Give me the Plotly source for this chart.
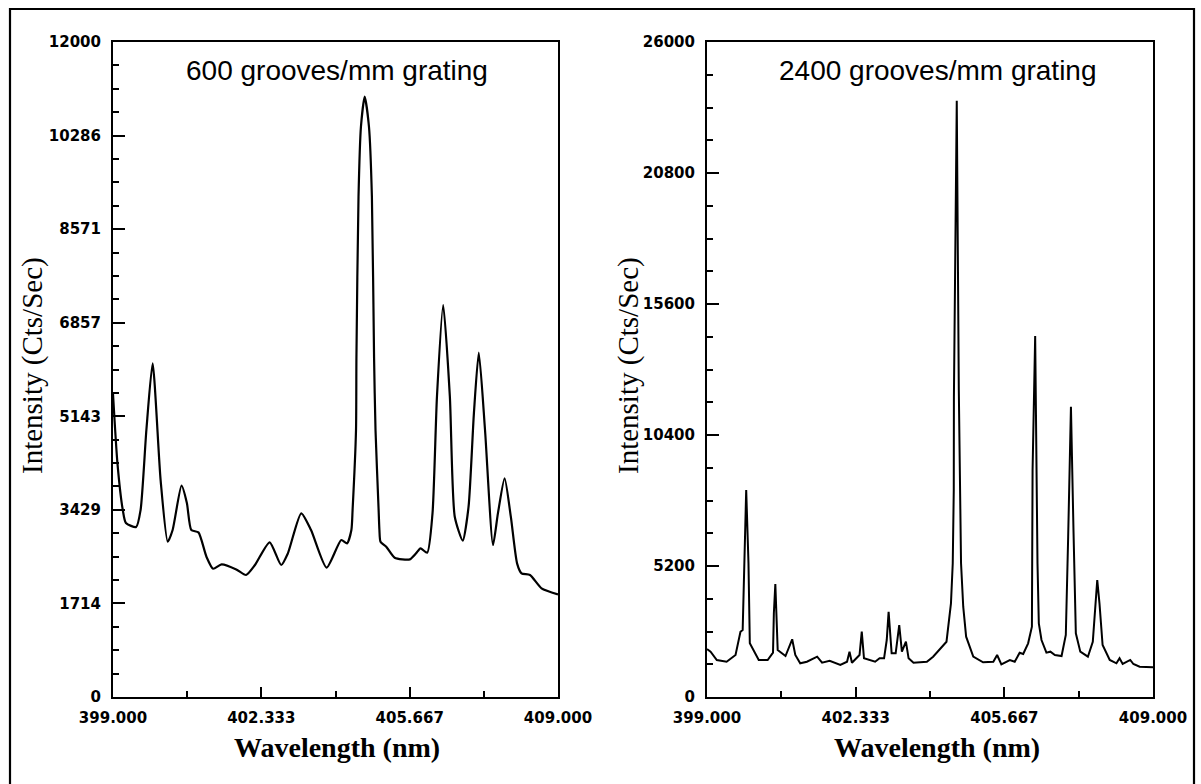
import plotly.graph_objects as go

# 600 grooves/mm grating spectrum
wl_600 = [399.00, 399.10, 399.22, 399.29, 399.52, 399.62, 399.75, 399.89, 400.07,
          400.23, 400.34, 400.54, 400.66, 400.76, 400.92, 401.10, 401.25, 401.44,
          401.77, 401.99, 402.19, 402.52, 402.78, 402.93, 403.23, 403.45, 403.80,
          404.13, 404.26, 404.357, 404.384, 404.461, 404.470, 404.517, 404.572,
          404.656, 404.752, 404.818, 404.867, 404.899, 404.969, 404.987, 405.011,
          405.14, 405.33, 405.67, 405.81, 405.91, 406.06, 406.18, 406.28, 406.42,
          406.57, 406.68, 406.86, 406.99, 407.11, 407.22, 407.36, 407.54, 407.65,
          407.80, 407.94, 408.08, 408.18, 408.37, 408.63, 409.00]
int_600 = [5550, 4281, 3426, 3187, 3114, 3426, 4891, 6113, 3975,
           2845, 3059, 3871, 3553, 3059, 3016, 2570, 2350, 2430,
           2338, 2235, 2418, 2834, 2418, 2632, 3365, 3059, 2369,
           2876, 2815, 3059, 3426, 4891, 6205, 9166, 10448,
           10998, 10448, 9166, 6205, 4891, 3426, 3059, 2845,
           2753, 2552, 2522, 2632, 2724, 2643, 3365, 5502, 7181,
           5502, 3303, 2864, 3486, 5197, 6308, 4891, 2785, 3365,
           4007, 3303, 2449, 2266, 2235, 1991, 1880]

# 2400 grooves/mm grating spectrum
wl_2400 = [399.00, 399.08, 399.22, 399.44, 399.64, 399.75, 399.80, 399.834, 399.879,
           399.93, 399.96, 400.16, 400.36, 400.48, 400.499, 400.532, 400.585, 400.76,
           400.91, 400.98, 401.09, 401.24, 401.47, 401.58, 401.75, 401.99, 402.14,
           402.195, 402.25, 402.42, 402.47, 402.52, 402.66, 402.77, 402.87, 402.97,
           403.03, 403.072, 403.14, 403.23, 403.31, 403.37, 403.46, 403.52, 403.63,
           403.93, 404.07, 404.15, 404.22, 404.37, 404.47, 404.51, 404.533, 404.536,
           404.60, 404.646, 404.696, 404.745, 404.81, 404.97, 405.19, 405.42, 405.505,
           405.60, 405.79, 405.90, 406.01, 406.09, 406.20, 406.285, 406.30, 406.326,
           406.358, 406.41, 406.44, 406.50, 406.61, 406.70, 406.80, 406.95, 407.045,
           407.098, 407.16, 407.217, 407.27, 407.37, 407.54, 407.65, 407.71, 407.75,
           407.80, 407.87, 408.03, 408.18, 408.25, 408.32, 408.49, 408.56, 408.70,
           409.00]
int_2400 = [1900, 1798, 1469, 1401, 1667, 2592, 2659, 5306, 8216,
            5306, 2131, 1469, 1469, 1759, 3322, 4485, 1865, 1627,
            2290, 1667, 1337, 1401, 1600, 1361, 1441, 1270, 1401,
            1798, 1361, 1667, 2592, 1536, 1469, 1401, 1536, 1536,
            2262, 3386, 1733, 1733, 2858, 1798, 2195, 1536, 1361,
            1401, 1600, 1759, 1933, 2195, 3719, 5306, 8216, 11919,
            23667, 12185, 5306, 3584, 2393, 1600, 1377, 1401, 1667,
            1297, 1469, 1401, 1759, 1707, 2131, 2791, 9010, 11919,
            14328, 5306, 2925, 2262, 1759, 1798, 1667, 1627, 2461,
            6362, 11522, 6628, 2528, 1798, 1600, 2195, 3850, 4644,
            3719, 2064, 1469, 1337, 1536, 1310, 1469, 1310, 1203,
            1178]

# Axis tick labels
x_tickvals = [399.0, 402.333, 405.667, 409.0]
x_ticktext = ["399.000", "402.333", "405.667", "409.000"]
x_minor = [400.667, 404.0, 407.333]
y_ticktext_600 = ["0", "1714", "3429", "5143", "6857", "8571", "10286", "12000"]
y_ticktext_2400 = ["0", "5200", "10400", "15600", "20800", "26000"]
ymax_600 = 12000
ymax_2400 = 26000

W, H = 1201, 784
tick_font = dict(family="DejaVu Sans", size=15, color="black", weight="bold")
xtitle_font = dict(family="Liberation Serif", size=28, color="black", weight="bold")
ytitle_font = dict(family="Liberation Serif", size=29, color="black")
panel_font = dict(family="Liberation Sans", size=28, color="black")

fig = go.Figure()
fig.add_trace(go.Scatter(x=wl_600, y=int_600, mode="lines",
                         line=dict(color="black", width=2.2, shape="spline", smoothing=0.6),
                         xaxis="x", yaxis="y", showlegend=False))
fig.add_trace(go.Scatter(x=wl_2400, y=int_2400, mode="lines",
                         line=dict(color="black", width=2),
                         xaxis="x2", yaxis="y2", showlegend=False))

ydom = [(H - 697) / H, (H - 42) / H]
xdom1 = [113 / W, 558 / W]
xdom2 = [707 / W, 1153 / W]


def xaxis_spec(domain, anchor):
    return dict(domain=domain, anchor=anchor, range=[399, 409], automargin=False,
                showline=True, linecolor="black", linewidth=2, mirror=True,
                showgrid=False, zeroline=False,
                tickmode="array", tickvals=x_tickvals, ticktext=x_ticktext,
                ticks="inside", ticklen=10, tickwidth=1.6, tickcolor="black",
                minor=dict(tickmode="array", tickvals=x_minor, ticks="inside",
                           ticklen=6, tickwidth=1.6, tickcolor="black"),
                tickfont=tick_font, ticklabelstandoff=6)


def yaxis_spec(anchor, ymax, labels):
    n = len(labels) - 1
    return dict(domain=ydom, anchor=anchor, range=[0, ymax], automargin=False,
                showline=True, linecolor="black", linewidth=2, mirror=True,
                showgrid=False, zeroline=False,
                tickmode="array", tickvals=[ymax * i / n for i in range(n + 1)],
                ticktext=labels,
                ticks="inside", ticklen=12, tickwidth=1.6, tickcolor="black",
                minor=dict(tick0=0, dtick=ymax / (4 * n), ticks="inside",
                           ticklen=6, tickwidth=1.6, tickcolor="black"),
                tickfont=tick_font, ticklabelstandoff=7)


def label(text, x, y, font, angle=0):
    return dict(text=text, x=x / W, y=(H - y) / H, xref="paper", yref="paper",
                xanchor="center", yanchor="middle", textangle=angle,
                showarrow=False, font=font)


fig.update_layout(
    width=W, height=H,
    margin=dict(l=0, r=0, t=0, b=0, autoexpand=False),
    paper_bgcolor="white", plot_bgcolor="white",
    xaxis=xaxis_spec(xdom1, "y"),
    yaxis=yaxis_spec("x", ymax_600, y_ticktext_600),
    xaxis2=xaxis_spec(xdom2, "y2"),
    yaxis2=yaxis_spec("x2", ymax_2400, y_ticktext_2400),
    shapes=[dict(type="rect", xref="paper", yref="paper",
                 x0=10 / W, x1=1194 / W, y0=-0.02, y1=(H - 9) / H,
                 line=dict(color="black", width=2.2), fillcolor="rgba(0,0,0,0)")],
    annotations=[
        label("600 grooves/mm grating", 337, 70, panel_font),
        label("2400 grooves/mm grating", 938, 70, panel_font),
        label("Wavelength (nm)", 337, 747, xtitle_font),
        label("Wavelength (nm)", 937, 747, xtitle_font),
        label("Intensity (Cts/Sec)", 32, 366, ytitle_font, -90),
        label("Intensity (Cts/Sec)", 628, 366, ytitle_font, -90),
    ],
)

fig.write_html("out.html")
